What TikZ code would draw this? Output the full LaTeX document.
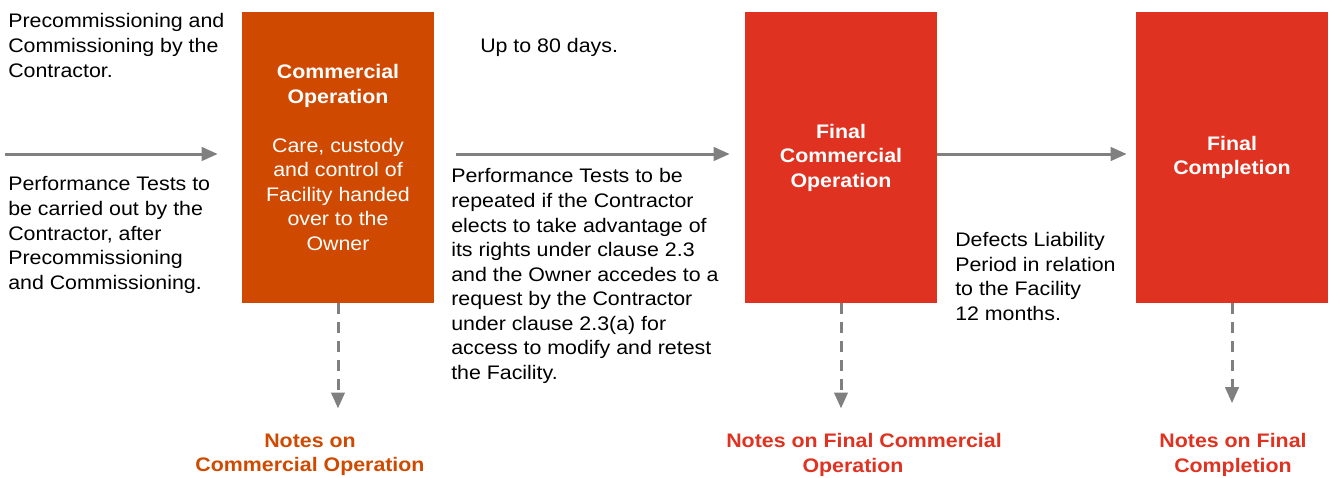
\documentclass[tikz,border=0pt]{standalone}
\usepackage{fontspec}
\setmainfont{Liberation Sans}[FakeStretch=1.09]
\usetikzlibrary{arrows.meta}
\definecolor{cmorange}{RGB}{207,74,0}
\definecolor{fcred}{RGB}{224,50,32}
\definecolor{flowgray}{RGB}{128,128,128}

\begin{document}
\begin{tikzpicture}[x=0.75pt,y=-0.75pt,
  txt/.style={font=\fontsize{14.7}{18.4}\selectfont},
  body/.style={txt, align=left, inner sep=0pt, anchor=north west},
  milestone/.style={txt, fill=#1, draw=none, minimum width=144pt, minimum height=218.25pt,
    inner sep=0pt, text=white, align=center},
  note/.style={font=\fontsize{14.7}{18.4}\selectfont\bfseries, text=#1, align=center,
    inner sep=0pt, anchor=north},
  flow/.style={draw=flowgray, line width=2.25pt, -{Triangle[length=12pt,width=10pt]}},
  dflow/.style={flow, dash pattern=on 8.25pt off 6pt},
]
\useasboundingbox (0,0) rectangle (1329,478);

% milestone boxes
\node[milestone=cmorange] (co) at (338,157.5)
  {\textbf{Commercial}\\\textbf{Operation}\\[18.4pt]Care, custody\\and control of\\Facility handed\\over to the\\Owner};
\node[milestone=fcred] (fco) at (841,157.5)
  {\textbf{Final}\\\textbf{Commercial}\\\textbf{Operation}};
\node[milestone=fcred] (fc) at (1232,157.5)
  {\textbf{Final}\\\textbf{Completion}};

% descriptive texts
\node[body] (pre) at (8,13.5)
  {Precommissioning and\\Commissioning by the\\Contractor.};
\node[body] (perf1) at (8,176.5)
  {Performance Tests to\\be carried out by the\\Contractor, after\\Precommissioning\\and Commissioning.};
\node[body] (days) at (480,38.5) {Up to 80 days.};
\node[body] (perf2) at (451,168.5)
  {Performance Tests to be\\repeated if the Contractor\\elects to take advantage of\\its rights under clause 2.3\\and the Owner accedes to a\\request by the Contractor\\under clause 2.3(a) for\\access to modify and retest\\the Facility.};
\node[body] (dlp) at (955,232)
  {Defects Liability\\Period in relation\\to the Facility\\12 months.};

% notes
\node[note=cmorange] (nco) at (310,433.5) {Notes on\\Commercial Operation};
\node[note=fcred] (nfco) at (864,433.5) {Notes on Final Commercial\\Operation\hspace*{16.5pt}};
\node[note=fcred] (nfc) at (1233,433.5) {Notes on Final\\Completion};

% timeline arrows
\coordinate (start) at (5,154);
\draw[flow, shorten >=18pt] (start) -- (start -| co.west);
\draw[flow, shorten <=16.5pt, shorten >=11.25pt] (co.east |- start) -- (fco.west |- start);
\draw[flow, shorten >=6.75pt] (fco.east |- start) -- (fc.west |- start);

% dashed links to notes
\draw[dflow, shorten >=18.75pt] (co.south) -- (co.south |- nco.north);
\draw[dflow, shorten >=18.75pt] (fco.south) -- (fco.south |- nfco.north);
\draw[dflow, shorten >=22.75pt] (fc.south) -- (fc.south |- nfc.north);
\end{tikzpicture}
\end{document}
